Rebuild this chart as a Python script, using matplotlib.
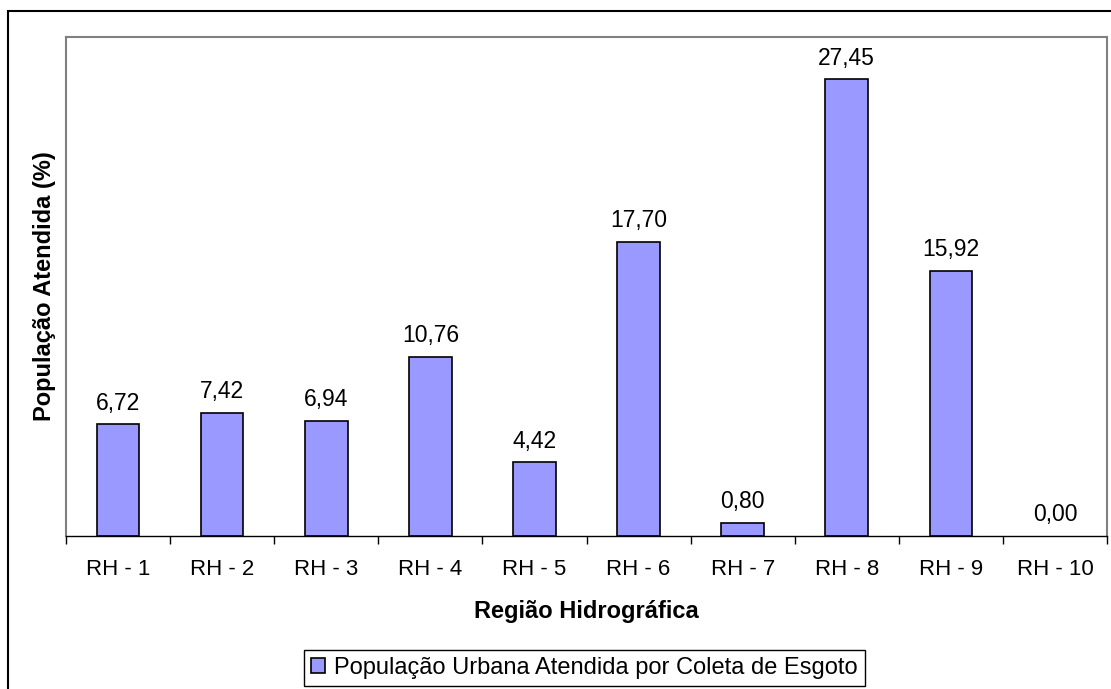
import matplotlib
matplotlib.use('Agg')
import matplotlib.pyplot as plt
from matplotlib.patches import Rectangle

plt.rcParams['font.family'] = ['Liberation Sans', 'DejaVu Sans']

# data
regioes = ['RH - 1', 'RH - 2', 'RH - 3', 'RH - 4', 'RH - 5',
           'RH - 6', 'RH - 7', 'RH - 8', 'RH - 9', 'RH - 10']
atendida = [6.72, 7.42, 6.94, 10.76, 4.42, 17.70, 0.80, 27.45, 15.92, 0.00]
serie = 'População Urbana Atendida por Coleta de Esgoto'

W, H = 1111, 689
fig = plt.figure(figsize=(W / 100, H / 100), dpi=100)

# outer chart border (runs off the right and bottom of the picture)
fig.patches.append(Rectangle((8 / W, -0.05), 1.1, 1 - 11 / H + 0.05,
                             transform=fig.transFigure, fill=False,
                             edgecolor='black', linewidth=1.5))

ax = fig.add_axes([66 / W, 1 - 536 / H, (1107 - 66) / W, (536 - 37) / H])

x = list(range(len(regioes)))
bars = ax.bar(x, atendida, width=0.41, color='#9999FF',
              edgecolor='black', linewidth=1.2, label=serie)
# a zero bar draws nothing in the original
for b, v in zip(bars, atendida):
    if v == 0:
        b.set_linewidth(0)

for xi, v in zip(x, atendida):
    ax.annotate(f'{v:.2f}'.replace('.', ','), (xi, v),
                xytext=(0, 7), textcoords='offset points',
                ha='center', va='bottom', fontsize=16.5)

ax.set_xlim(-0.5, len(regioes) - 0.5)
ax.set_ylim(0, 30)
ax.set_yticks([])

# boundary ticks, labels on the category centres
ax.set_xticks([i - 0.5 for i in range(len(regioes) + 1)])
ax.set_xticklabels([])
ax.set_xticks(x, minor=True)
ax.set_xticklabels(regioes, minor=True, fontsize=16)
ax.tick_params(axis='x', which='major', direction='out', length=6,
               width=1, color='black')
ax.tick_params(axis='x', which='minor', length=0, pad=16.5)

for s in ['left', 'top', 'right']:
    ax.spines[s].set_color('#808080')
    ax.spines[s].set_linewidth(1.5)
ax.spines['bottom'].set_color('black')
ax.spines['bottom'].set_linewidth(1)

ax.set_xlabel('Região Hidrográfica', fontsize=17, fontweight='bold')
ax.xaxis.set_label_coords(0.5, -0.128)
ax.set_ylabel('População Atendida (%)', fontsize=17, fontweight='bold')
ax.yaxis.set_label_coords(-0.0096, 0.5)

leg = fig.legend(handles=[bars], labels=[serie], loc='center',
                 bbox_to_anchor=(584.5 / W, 1 - 668 / H),
                 bbox_transform=fig.transFigure, fontsize=17,
                 fancybox=False, shadow=False, framealpha=1,
                 handlelength=0.6, handleheight=0.6, handletextpad=0.4,
                 borderpad=0.3, borderaxespad=0)
leg.get_frame().set_edgecolor('black')
leg.get_frame().set_linewidth(1)

fig.savefig('out.png', dpi=100)
